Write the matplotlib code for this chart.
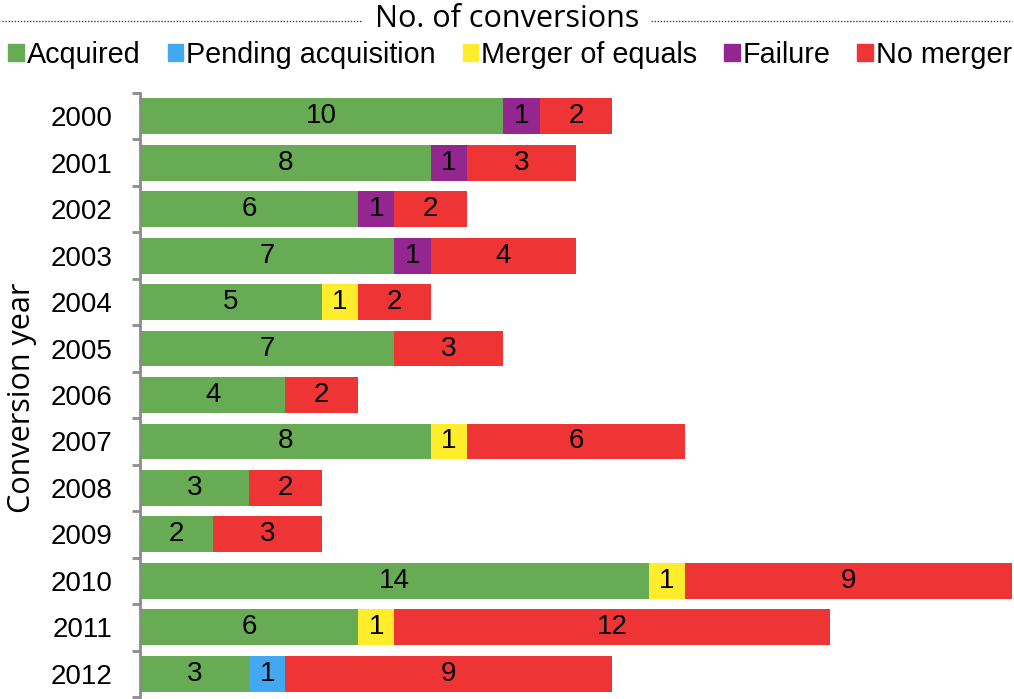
import numpy as np
import matplotlib
matplotlib.use("Agg")
import matplotlib.pyplot as plt
from matplotlib.patches import Patch
from matplotlib.lines import Line2D

years = ["2000", "2001", "2002", "2003", "2004", "2005", "2006",
         "2007", "2008", "2009", "2010", "2011", "2012"]
series = ["Acquired", "Pending acquisition", "Merger of equals", "Failure", "No merger"]
acquired = [10, 8, 6, 7, 5, 7, 4, 8, 3, 2, 14, 6, 3]
pending = [0, 0, 0, 0, 0, 0, 0, 0, 0, 0, 0, 0, 1]
merger_eq = [0, 0, 0, 0, 1, 0, 0, 1, 0, 0, 1, 1, 0]
failure = [1, 1, 1, 1, 0, 0, 0, 0, 0, 0, 0, 0, 0]
no_merger = [2, 3, 2, 4, 2, 3, 2, 6, 2, 3, 9, 12, 9]

colors = ["#67AB54", "#42A8F2", "#FFEC2B", "#93278F", "#EE3434"]

plt.rcParams['font.family'] = ['Liberation Sans', 'DejaVu Sans']

fig = plt.figure(figsize=(10.14, 6.99), dpi=100)
ax = fig.add_axes([140 / 1014, 2 / 699, 872 / 1014, 604 / 699])

y = np.arange(len(years))
left = np.zeros(len(years))
for name, vals, c in zip(series, [acquired, pending, merger_eq, failure, no_merger], colors):
    vals = np.array(vals)
    bars = ax.barh(y, vals, left=left, height=0.77, color=c, label=name)
    ax.bar_label(bars, labels=[str(v) if v else "" for v in vals],
                 label_type="center", fontsize=20, color="black")
    left += vals

ax.set_xlim(0, 24)
ax.set_ylim(len(years) - 0.5, -0.5)
ax.set_xticks([])
ax.set_yticks(y)
ax.set_yticklabels(years, fontsize=20)
ax.set_yticks(np.arange(-0.5, len(years)), minor=True)
ax.tick_params(axis="y", which="major", length=0, pad=20)
ax.tick_params(axis="y", which="minor", length=6, width=2, color="#8C8C8C")
for s in ["top", "right", "bottom"]:
    ax.spines[s].set_visible(False)
ax.spines["left"].set_color("#8C8C8C")
ax.spines["left"].set_linewidth(2)

# title with dotted lines either side
fig.text(0.5, 1 - 19 / 699, "No. of conversions", ha="center", va="center",
         fontsize=22, family="Open Sans")
for x0, x1 in [(2, 362), (651, 1012)]:
    fig.add_artist(Line2D([x0 / 1014, x1 / 1014], [1 - 21 / 699] * 2,
                          color="#444444", lw=1, ls=(0, (1, 1.2))))

fig.text(22 / 1014, 1 - 398 / 699, "Conversion year", rotation=90,
         ha="center", va="center", fontsize=22, family="Open Sans")

handles = [Patch(color=c, label=n) for n, c in zip(series, colors)]
fig.legend(handles=handles, loc="center", bbox_to_anchor=(0.503, 1 - 55 / 699),
           ncol=5, frameon=False, fontsize=20.7, handlelength=0.55, handleheight=0.55,
           handletextpad=0.08, columnspacing=0.95, borderpad=0, borderaxespad=0)

fig.savefig("out.png", dpi=100)
